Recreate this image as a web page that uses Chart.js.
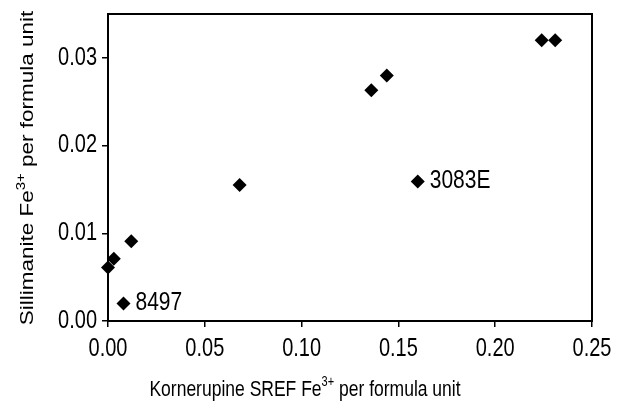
<!DOCTYPE html>
<html>
<head>
<meta charset="utf-8">
<script src="https://cdn.jsdelivr.net/npm/chart.js@4.4.1/dist/chart.umd.min.js"></script>
<style>
    body { margin: 0; background: #fff; }
    #wrap { width: 629px; height: 405px; }
</style>
</head>
<body>
<div id="wrap"><canvas id="feChart" width="629" height="405"></canvas></div>
<script>
// Fe3+ per formula unit
const kornerupineFe = [0.000, 0.003, 0.012, 0.008, 0.068, 0.136, 0.144, 0.160, 0.224, 0.231];
const sillimaniteFe = [0.0061, 0.0071, 0.0091, 0.0020, 0.0155, 0.0263, 0.0280, 0.0159, 0.0320, 0.0320];
const sampleNames = ['', '', '', '8497', '', '', '', '3083E', '', ''];

const xTicks = [0, 0.05, 0.10, 0.15, 0.20, 0.25];
const yTicks = [0, 0.01, 0.02, 0.03];

const xTitle = [['Kornerupine SREF Fe', false], ['3+', true], [' per formula unit', false]];
const yTitle = [['Sillimanite Fe', false], ['3+', true], [' per formula unit', false]];

const FONT = '"Liberation Sans", Arial, sans-serif';
const SY = 1.25; // the scanned figure is a bit taller than wide

// one line of text, stretched vertically around (x, y)
function tallText(ctx, text, x, y, size, align) {
    ctx.save();
    ctx.translate(x, y);
    ctx.scale(1, SY);
    ctx.font = size + 'px ' + FONT;
    ctx.textAlign = align;
    ctx.textBaseline = 'middle';
    ctx.fillText(text, 0, 0);
    ctx.restore();
}

// title with superscript pieces, centred on x, baseline at y
function drawRich(ctx, parts, x, y, size) {
    var sub = Math.round(size * 0.65);
    var widths = parts.map(p => {
        ctx.font = (p[1] ? sub : size) + 'px ' + FONT;
        return ctx.measureText(p[0]).width;
    });
    var total = widths.reduce((a, b) => a + b, 0);
    var cx = x - total / 2;
    ctx.textAlign = 'left';
    ctx.textBaseline = 'alphabetic';
    parts.forEach((p, i) => {
        ctx.font = (p[1] ? sub : size) + 'px ' + FONT;
        ctx.fillText(p[0], cx, p[1] ? y - size * 0.45 : y);
        cx += widths[i];
    });
}

const extras = {
    id: 'extras',
    afterDraw(chart) {
        const ctx = chart.ctx;
        const area = chart.chartArea;
        const xs = chart.scales.x, ys = chart.scales.y;
        ctx.save();
        // plot frame
        ctx.strokeStyle = '#000';
        ctx.lineWidth = 2;
        ctx.strokeRect(area.left, area.top, area.right - area.left, area.bottom - area.top);
        ctx.fillStyle = '#000';

        // tick labels
        xTicks.forEach(v => tallText(ctx, v.toFixed(2), xs.getPixelForValue(v), area.bottom + 28, 20, 'center'));
        yTicks.forEach(v => tallText(ctx, v.toFixed(2), area.left - 11, ys.getPixelForValue(v), 20, 'right'));

        // point labels
        sampleNames.forEach((name, i) => {
            if (!name) return;
            tallText(ctx, name, xs.getPixelForValue(kornerupineFe[i]) + 12, ys.getPixelForValue(sillimaniteFe[i]) - 1, 21, 'left');
        });

        // axis titles
        ctx.save();
        ctx.translate(0, 396);
        ctx.scale(1, SY);
        drawRich(ctx, xTitle, 305, 0, 17.5);
        ctx.restore();

        ctx.save();
        ctx.translate(33, 168);
        ctx.scale(1, SY);
        ctx.rotate(-Math.PI / 2);
        drawRich(ctx, yTitle, 0, 0, 18);
        ctx.restore();
        ctx.restore();
    }
};

new Chart(document.getElementById('feChart'), {
    type: 'scatter',
    data: {
        datasets: [{
            label: 'Fe3+',
            data: kornerupineFe.map((k, i) => ({ x: k, y: sillimaniteFe[i] })),
            pointStyle: 'rectRot',
            pointRadius: 7,
            pointBackgroundColor: '#000',
            pointBorderColor: '#000',
            pointBorderWidth: 0,
            clip: false
        }]
    },
    options: {
        responsive: false,
        animation: false,
        layout: { padding: { left: 0, top: 14, right: 37, bottom: 0 } },
        plugins: { legend: { display: false }, tooltip: { enabled: false } },
        scales: {
            x: {
                type: 'linear',
                min: 0,
                max: 0.25,
                afterFit: s => { s.height = 84; },
                afterBuildTicks: s => { s.ticks = xTicks.map(v => ({ value: v })); },
                grid: { display: true, drawOnChartArea: false, drawTicks: true, tickLength: 6, color: '#000', lineWidth: 1.5 },
                border: { display: true, color: '#000', width: 2 },
                ticks: { color: 'rgba(0,0,0,0)', maxRotation: 0 }
            },
            y: {
                type: 'linear',
                min: 0,
                max: 0.035,
                afterFit: s => { s.width = 108; },
                afterBuildTicks: s => { s.ticks = yTicks.map(v => ({ value: v })); },
                grid: { display: true, drawOnChartArea: false, drawTicks: true, tickLength: 6, color: '#000', lineWidth: 1.5 },
                border: { display: true, color: '#000', width: 2 },
                ticks: { color: 'rgba(0,0,0,0)' }
            }
        }
    },
    plugins: [extras]
});
</script>
</body>
</html>
